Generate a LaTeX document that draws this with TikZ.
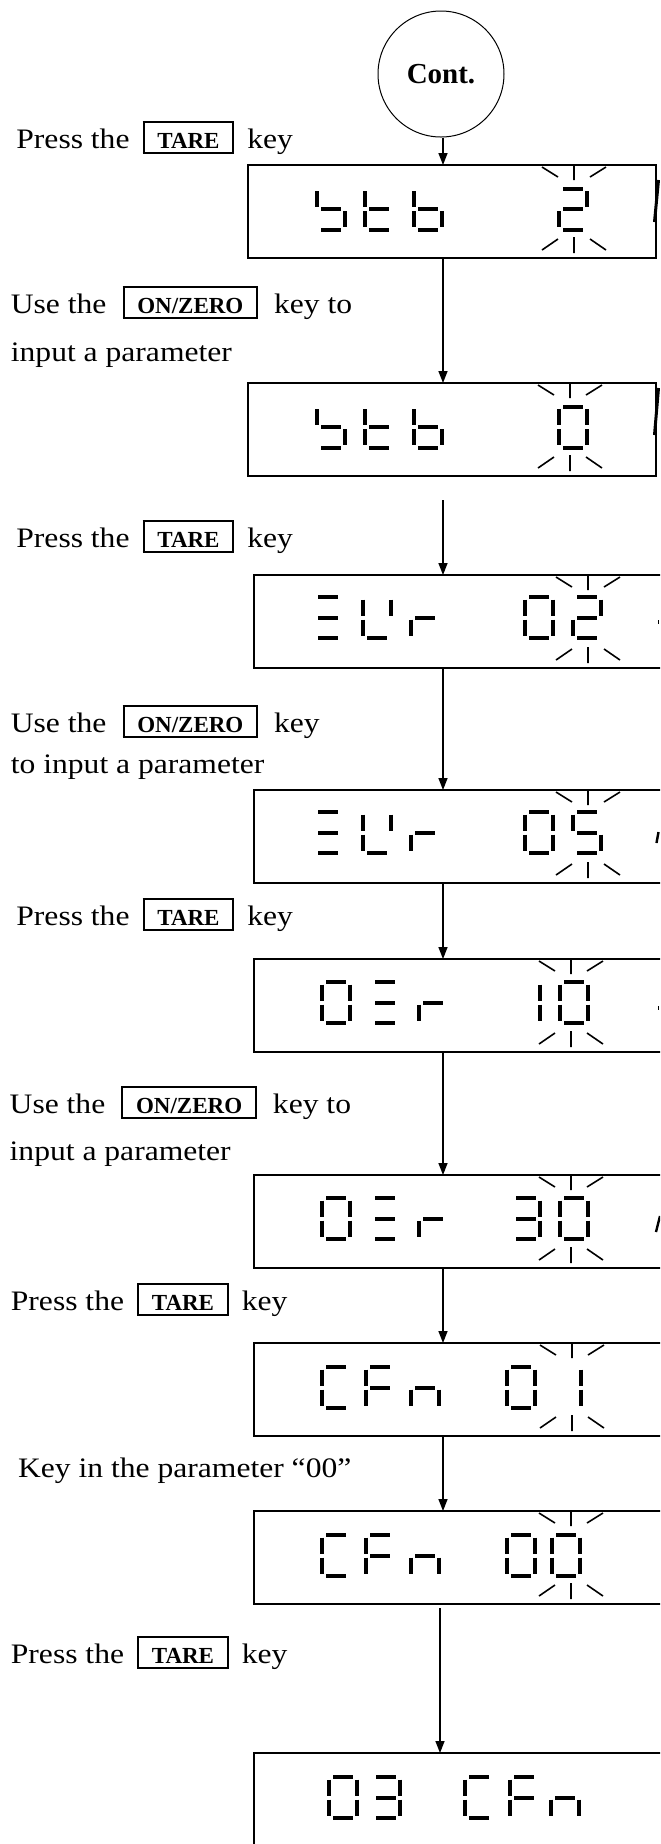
\documentclass[tikz,border=0pt]{standalone}
\usepackage{fontspec}
\setmainfont{Liberation Serif}
\newfontfamily\lblfam[FakeStretch=1.12]{Liberation Serif}
\newfontfamily\keyfam{Liberation Serif}
\usetikzlibrary{arrows.meta}
\newcommand\lblfont{\lblfam\fontsize{14.1pt}{17pt}\selectfont}
\newcommand\keyb[1]{{\setlength\fboxsep{0pt}\setlength\fboxrule{1pt}\fbox{\hspace{6.4pt}\rule[-2pt]{0pt}{14.5pt}\keyfam\bfseries\fontsize{11.5pt}{13pt}\selectfont #1\hspace{6.4pt}}}}
\def\sega{(4,0)--(24,0)}
\def\segg{(4,20.5)--(24,20.5)}
\def\segd{(4,41)--(24,41)}
\def\segf{(0,2.5)--(0,18.5)}
\def\segb{(28,2.5)--(28,18.5)}
\def\sege{(0,22.5)--(0,38.5)}
\def\segc{(28,22.5)--(28,38.5)}
\newcommand\lcdglyph[3]{%
  \foreach \s in {#3}{%
    \expandafter\let\expandafter\segpath\csname seg\s\endcsname
    \draw[segline,shift={(#1,#2)}] \segpath;
  }}
\newcommand\blink[2]{%
  \draw[blinkline] (#1,#2-1)--(#1,#2+15)
    (#1-32,#2+2)--(#1-16,#2+12) (#1+16,#2+12)--(#1+32,#2+2)
    (#1,#2+72)--(#1,#2+88)
    (#1-32,#2+85)--(#1-16,#2+74) (#1+16,#2+74)--(#1+32,#2+85);}
\begin{document}
\begin{tikzpicture}[x=0.5pt,y=-0.5pt,
  disp/.style={draw,line width=1pt,rectangle,anchor=north west,minimum height=46.5pt,inner sep=0pt,outer sep=0pt},
  segline/.style={line width=2pt,line cap=butt},
  blinkline/.style={line width=0.8pt},
  arr/.style={line width=0.7pt,-{Triangle[length=6pt,width=4.5pt]}},
  lbl/.style={anchor=base west,inner sep=0pt,font=\lblfont,align=left},
  edgemark/.style={line width=0.8pt}]
\useasboundingbox (0,0) rectangle (660,1844);
\clip (0,0) rectangle (660,1844);
\fill[white] (0,0) rectangle (660,1844);
% start circle
\node[circle,draw,line width=0.5pt,minimum size=63pt,inner sep=0pt] (c) at (441,74)
  {\keyfam\bfseries\fontsize{14.5pt}{17pt}\selectfont Cont.};
% display boxes
\node[disp,minimum width=204pt] (b1) at (248,165) {};
\node[disp,minimum width=204pt] (b2) at (248,383) {};
\node[disp,minimum width=215pt] (b3) at (254,575) {};
\node[disp,minimum width=215pt] (b4) at (254,790) {};
\node[disp,minimum width=215pt] (b5) at (254,959) {};
\node[disp,minimum width=215pt] (b6) at (254,1175) {};
\node[disp,minimum width=215pt] (b7) at (254,1343) {};
\node[disp,minimum width=215pt] (b8) at (254,1511) {};
\node[disp,minimum width=215pt] (b9) at (254,1753) {};
% arrows
\coordinate (ax) at (443,0);
\coordinate (s2) at (443,500);
\coordinate (s8) at (440,1608);
\draw[arr] (c.south -| ax) -- (b1.north -| ax);
\draw[arr] (b1.south -| ax) -- (b2.north -| ax);
\draw[arr] (s2) -- (s2 |- b3.north);
\draw[arr] (b3.south -| ax) -- (b4.north -| ax);
\draw[arr] (b4.south -| ax) -- (b5.north -| ax);
\draw[arr] (b5.south -| ax) -- (b6.north -| ax);
\draw[arr] (b6.south -| ax) -- (b7.north -| ax);
\draw[arr] (b7.south -| ax) -- (b8.north -| ax);
\draw[arr] (s8) -- (s8 |- b9.north);
% labels
\node[lbl] (t1) at (16,148) {Press the\hspace{6.5pt}\keyb{TARE}\hspace{6.5pt}key};
\node[lbl] (t2) at (10.5,313) {Use the\hspace{8pt}\keyb{ON/ZERO}\hspace{8pt}key to};
\node[lbl] (t2b) at (10.5,361) {input a parameter};
\node[lbl] (t3) at (16,547) {Press the\hspace{6.5pt}\keyb{TARE}\hspace{6.5pt}key};
\node[lbl] (t4) at (10.5,732) {Use the\hspace{8pt}\keyb{ON/ZERO}\hspace{8pt}key};
\node[lbl] (t4b) at (10.5,773) {to input a parameter};
\node[lbl] (t5) at (16,925) {Press the\hspace{6.5pt}\keyb{TARE}\hspace{6.5pt}key};
\node[lbl] (t6) at (9.3,1113) {Use the\hspace{8pt}\keyb{ON/ZERO}\hspace{8pt}key to};
\node[lbl] (t6b) at (9.3,1160) {input a parameter};
\node[lbl] (t7) at (10.5,1310) {Press the\hspace{6.5pt}\keyb{TARE}\hspace{6.5pt}key};
\node[lbl] (t8) at (17.7,1477) {Key in the parameter “00”};
\node[lbl] (t9) at (10.5,1663) {Press the\hspace{6.5pt}\keyb{TARE}\hspace{6.5pt}key};
% box 1: 5tb 2
\lcdglyph{317}{188.5}{f,g,c,d}
\lcdglyph{365}{188.5}{f,e,g,d}
\lcdglyph{414}{188.5}{f,e,g,c,d}
\lcdglyph{559}{188.5}{a,b,g,e,d}
\blink{574}{165}
% box 2: 5tb 0
\lcdglyph{317}{406.5}{f,g,c,d}
\lcdglyph{365}{406.5}{f,e,g,d}
\lcdglyph{414}{406.5}{f,e,g,c,d}
\lcdglyph{559}{406.5}{a,b,c,d,e,f}
\blink{570}{383}
% box 3
\lcdglyph{314}{597}{a,g,d}
\lcdglyph{363}{597}{f,e,d,b}
\lcdglyph{411}{597}{e,g}
\lcdglyph{525}{597}{a,b,c,d,e,f}
\lcdglyph{573}{597}{a,b,g,e,d}
\blink{588}{575}
% box 4
\lcdglyph{314}{812}{a,g,d}
\lcdglyph{363}{812}{f,e,d,b}
\lcdglyph{411}{812}{e,g}
\lcdglyph{525}{812}{a,b,c,d,e,f}
\lcdglyph{573}{812}{a,f,g,c,d}
\blink{588}{790}
% box 5
\lcdglyph{322}{982}{a,b,c,d,e,f}
\lcdglyph{371}{982}{a,g,d}
\lcdglyph{419}{982}{e,g}
\lcdglyph{512}{982}{b,c}
\lcdglyph{560}{982}{a,b,c,d,e,f}
\blink{571}{959}
% box 6
\lcdglyph{322}{1198}{a,b,c,d,e,f}
\lcdglyph{371}{1198}{a,g,d}
\lcdglyph{419}{1198}{e,g}
\lcdglyph{512}{1198}{a,b,g,c,d}
\lcdglyph{560}{1198}{a,b,c,d,e,f}
\blink{571}{1175}
% box 7
\lcdglyph{322}{1367}{a,f,e,d}
\lcdglyph{366}{1367}{a,f,g,e}
\lcdglyph{411}{1367}{e,g,c}
\lcdglyph{507}{1367}{a,b,c,d,e,f}
\lcdglyph{553}{1367}{b,c}
\blink{572}{1343}
% box 8
\lcdglyph{322}{1535}{a,f,e,d}
\lcdglyph{366}{1535}{a,f,g,e}
\lcdglyph{411}{1535}{e,g,c}
\lcdglyph{507}{1535}{a,b,c,d,e,f}
\lcdglyph{552}{1535}{a,b,c,d,e,f}
\blink{571}{1511}
% box 9
\lcdglyph{329}{1777}{a,b,c,d,e,f}
\lcdglyph{372}{1777}{a,b,g,c,d}
\lcdglyph{465}{1777}{a,f,e,d}
\lcdglyph{510}{1777}{a,f,g,e}
\lcdglyph{551}{1777}{e,g,c}
% fragments at the right edge
\draw[edgemark,line width=1.5pt] (658.5,180) -- (654.5,222);
\draw[edgemark,line width=1.5pt] (658.5,388) -- (654.5,435);
\draw[edgemark] (658.5,620) -- (658.5,624);
\draw[edgemark,line width=1.2pt] (658.5,832) -- (656.5,843);
\draw[edgemark] (658.5,1006) -- (658.5,1010);
\draw[edgemark,line width=1.2pt] (660,1216) -- (656,1232);
\end{tikzpicture}
\end{document}
